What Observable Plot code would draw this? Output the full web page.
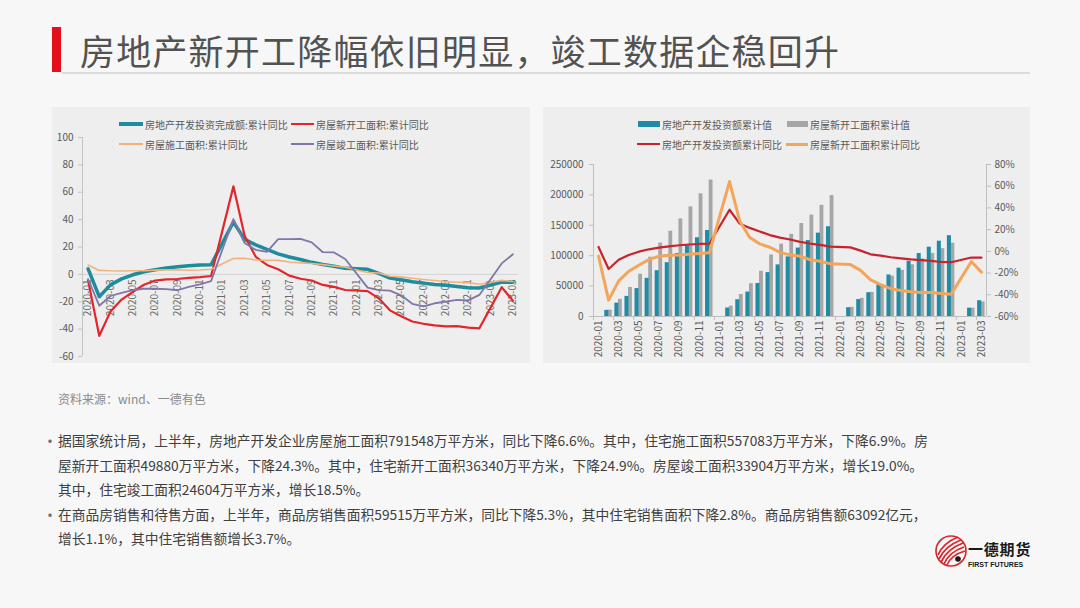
<!DOCTYPE html>
<html><head><meta charset="utf-8">
<script src="https://cdn.jsdelivr.net/npm/d3@7"></script>
<script src="https://cdn.jsdelivr.net/npm/@observablehq/plot@0.6"></script>
<style>
html,body{margin:0;padding:0}
body{width:1080px;height:608px;background:#f7f7f7;font-family:"Noto Sans CJK SC","Noto Sans",sans-serif;position:relative;overflow:hidden}
.abs{position:absolute}
.panel{position:absolute;background:#eeeeee}
.lg{position:absolute;height:14px;display:flex;align-items:center;font-size:10px;color:#595959;white-space:nowrap}
.sw{display:inline-block;margin-right:2px}
.ln{position:absolute;white-space:nowrap;font-size:13.75px;line-height:20px;color:#404040}
.bl{position:absolute;font-size:16px;line-height:20px;color:#707070}
</style></head><body>

<div class="abs" style="left:52px;top:27px;width:9px;height:45px;background:#e3101b"></div>
<div class="abs" style="left:80px;top:28px;font-size:35px;line-height:44px;color:#525252;letter-spacing:1.2px;white-space:nowrap">房地产新开工降幅依旧明显，竣工数据企稳回升</div>
<div class="abs" style="left:62px;top:72px;width:968px;height:2px;background:#dcdcdc"></div>

<div class="panel" style="left:52px;top:107px;width:478px;height:256px"><div id="left"></div></div>
<div class="panel" style="left:543px;top:107px;width:487px;height:256px"><div id="right"></div></div>

<!-- left legend -->
<div class="lg" style="left:119px;top:117px"><span class="sw" style="width:24px;height:3.5px;background:#1d8c9c"></span>房地产开发投资完成额:累计同比</div>
<div class="lg" style="left:291px;top:117px"><span class="sw" style="width:23px;height:2.2px;background:#e3262b"></span>房屋新开工面积:累计同比</div>
<div class="lg" style="left:119px;top:137px"><span class="sw" style="width:24px;height:1.6px;background:#f2b37a"></span>房屋施工面积:累计同比</div>
<div class="lg" style="left:291px;top:137px"><span class="sw" style="width:23px;height:1.8px;background:#8276a8"></span>房屋竣工面积:累计同比</div>

<!-- right legend -->
<div class="lg" style="left:638px;top:117px"><span class="sw" style="width:22px;height:6px;background:#1f8ca6"></span>房地产开发投资额累计值</div>
<div class="lg" style="left:787px;top:117px"><span class="sw" style="width:21px;height:6px;background:#a6a6a6"></span>房屋新开工面积累计值</div>
<div class="lg" style="left:637px;top:137px"><span class="sw" style="width:23px;height:2.2px;background:#c8232c"></span>房地产开发投资额累计同比</div>
<div class="lg" style="left:786px;top:137px"><span class="sw" style="width:22px;height:3px;background:#f3a55a"></span>房屋新开工面积累计同比</div>

<div class="abs" style="left:58px;top:391px;font-size:12px;line-height:16px;color:#8a8a8a;white-space:nowrap">资料来源：wind、一德有色</div>

<div class="bl" style="left:42px;top:430px">•</div>
<div class="ln" style="left:58px;top:430px">据国家统计局，上半年，房地产开发企业房屋施工面积791548万平方米，同比下降6.6%。其中，住宅施工面积557083万平方米，下降6.9%。房</div>
<div class="ln" style="left:58px;top:455px">屋新开工面积49880万平方米，下降24.3%。其中，住宅新开工面积36340万平方米，下降24.9%。房屋竣工面积33904万平方米，增长19.0%。</div>
<div class="ln" style="left:58px;top:479px">其中，住宅竣工面积24604万平方米，增长18.5%。</div>
<div class="bl" style="left:42px;top:504px">•</div>
<div class="ln" style="left:58px;top:504px">在商品房销售和待售方面，上半年，商品房销售面积59515万平方米，同比下降5.3%，其中住宅销售面积下降2.8%。商品房销售额63092亿元，</div>
<div class="ln" style="left:58px;top:528px">增长1.1%，其中住宅销售额增长3.7%。</div>

<!-- logo -->
<svg class="abs" style="left:934px;top:534px" width="34" height="34" viewBox="0 0 34 34">
  <circle cx="17" cy="17" r="15" fill="none" stroke="#d9262c" stroke-width="1.6"/>
  <path d="M4 21 Q9 9 24 3" stroke="#d9262c" stroke-width="1.8" fill="none"/>
  <path d="M5 25 Q11 12 27 6" stroke="#d9262c" stroke-width="1.8" fill="none"/>
  <path d="M7 28 Q13 15 29 9" stroke="#d9262c" stroke-width="1.8" fill="none"/>
  <path d="M10 30 Q15 18 30 13" stroke="#d9262c" stroke-width="1.8" fill="none"/>
  <path d="M13 31 Q17 21 31 17" stroke="#d9262c" stroke-width="1.6" fill="none"/>
  <circle cx="24" cy="25" r="2.8" fill="#1a1a1a"/>
</svg>
<div class="abs" style="left:968px;top:541px;font-size:15px;line-height:15px;font-weight:700;color:#1a1a1a;letter-spacing:0.8px;white-space:nowrap">一德期货</div>
<div class="abs" style="left:968px;top:561px;font-size:7px;line-height:7px;font-weight:700;color:#1a1a1a;white-space:nowrap;font-family:'Liberation Sans',sans-serif">FIRST FUTURES</div>

<script>
// ---------------- data ----------------
const months = [
  "2020-01","2020-02","2020-03","2020-04","2020-05","2020-06","2020-07","2020-08","2020-09","2020-10","2020-11","2020-12",
  "2021-01","2021-02","2021-03","2021-04","2021-05","2021-06","2021-07","2021-08","2021-09","2021-10","2021-11","2021-12",
  "2022-01","2022-02","2022-03","2022-04","2022-05","2022-06","2022-07","2022-08","2022-09","2022-10","2022-11","2022-12",
  "2023-01","2023-02","2023-03"
];
// 房地产开发投资完成额:累计同比 (%)
const investYoY = [
  4.0, -16.3, -7.7, -3.3, -0.3, 1.9, 3.4, 4.6, 5.6, 6.3, 6.8, 7.0,
  null, 38.3, 25.6, 21.6, 18.3, 15.0, 12.7, 10.9, 8.8, 7.2, 6.0, 4.4,
  null, 3.7, 0.7, -2.7, -4.0, -5.4, -6.4, -7.4, -8.0, -8.8, -9.8, -10.0,
  null, -5.7, -5.8
];
// 房屋新开工面积:累计同比 (%)
const newStartYoY = [
  -4.4, -44.9, -27.2, -18.4, -12.8, -7.6, -4.5, -3.6, -3.4, -2.6, -2.0, -1.2,
  null, 64.3, 28.2, 12.8, 6.9, 3.8, -0.9, -3.2, -4.5, -7.7, -9.1, -11.4,
  null, -12.2, -17.5, -26.3, -30.6, -34.4, -36.1, -37.2, -38.0, -37.8, -38.9, -39.4,
  null, -9.4, -19.2
];
// 房屋施工面积:累计同比 (%)
const constructYoY = [
  6.8, 2.9, 2.6, 2.5, 2.6, 2.6, 3.1, 3.3, 3.4, 3.0, 3.2, 3.7,
  null, 11.6, 11.8, 10.5, 10.3, 10.2, 9.0, 8.4, 7.9, 7.1, 6.1, 5.2,
  null, 1.4, 1.0, -1.4, -1.8, -2.8, -3.7, -4.5, -5.3, -5.7, -6.0, -7.2,
  null, -4.4, -5.2
];
// 房屋竣工面积:累计同比 (%)
const completeYoY = [
  -3.5, -22.9, -15.8, -13.5, -11.5, -10.5, -10.5, -10.8, -11.6, -9.2, -7.3, -4.9,
  null, 40.4, 22.9, 17.9, 16.4, 25.7, 25.7, 26.0, 23.4, 16.2, 16.0, 11.2,
  null, -9.7, -11.5, -11.9, -15.3, -21.5, -23.3, -21.1, -19.9, -18.7, -19.0, -15.0,
  null, 8.0, 14.7
];
// 房地产开发投资额累计值 (亿元)
const investCum = [
  null, 10115, 21963, 33103, 45920, 62780, 75328, 88454, 103484, 116556, 129492, 141443,
  null, 13986, 27576, 40240, 54318, 72179, 84895, 98060, 112559, 124934, 137086, 147602,
  null, 14499, 27765, 39154, 52134, 68314, 79462, 90809, 103559, 113945, 123863, 132895,
  null, 13669, 25974
];
// 房屋新开工面积累计值 (万平方米)
const newStartCum = [
  null, 10370, 28203, 47768, 69533, 97537, 120831, 140163, 160560, 180362, 201812, 224433,
  null, 17094, 36163, 53924, 74378, 101288, 118948, 135146, 152944, 166736, 182820, 198895,
  null, 15090, 29838, 39739, 51628, 66423, 75893, 85062, 94767, 103722, 111632, 120587,
  null, 13658, 24121
];
const leftTicks = [-60, -40, -20, 0, 20, 40, 60, 80, 100];
const rightValTicks = [0, 50000, 100000, 150000, 200000, 250000];
const rightPctTicks = [-60, -40, -20, 0, 20, 40, 60, 80];

// ---------------- helpers ----------------
const font = '"Noto Sans CJK SC","Noto Sans",sans-serif';
const series = arr => months.map((m, i) => ({i, m, v: arr[i]})).filter(d => d.v != null);
const labelRows = months.map((m, i) => ({i, m})).filter(d => d.i % 2 === 0);
const X0 = -0.5, X1 = months.length - 0.5;

// ---------------- left chart ----------------
const left = Plot.plot({
  width: 478, height: 256,
  marginLeft: 30, marginRight: 12, marginTop: 30, marginBottom: 7,
  style: {background: "transparent", fontFamily: font, fontSize: "10px", color: "#595959"},
  x: {domain: [X0, X1], axis: null},
  y: {domain: [-60, 100], axis: null},
  marks: [
    Plot.ruleY([0], {x1: X0, x2: X1, stroke: "#d4d4d4"}),
    Plot.ruleX([X0], {y1: -60, y2: 100, stroke: "#c4c4c4"}),
    Plot.axisY({ticks: leftTicks, label: null, tickSize: 4, tickPadding: 5, stroke: "#c4c4c4", fill: "#595959", tickFormat: d => String(d), fontSize: 10}),
    Plot.text(labelRows, {x: "i", y: 0, text: "m", rotate: -90, textAnchor: "end", dy: 5, fill: "#6a6a6a", fontSize: 10}),
    Plot.line(series(investYoY), {x: "i", y: "v", stroke: "#1d8c9c", strokeWidth: 3.5, strokeLinejoin: "round"}),
    Plot.line(series(newStartYoY), {x: "i", y: "v", stroke: "#e3262b", strokeWidth: 2.2, strokeLinejoin: "round"}),
    Plot.line(series(constructYoY), {x: "i", y: "v", stroke: "#f2b37a", strokeWidth: 1.6, strokeLinejoin: "round"}),
    Plot.line(series(completeYoY), {x: "i", y: "v", stroke: "#8276a8", strokeWidth: 1.8, strokeLinejoin: "round"})
  ]
});
document.getElementById("left").appendChild(left);

// ---------------- right chart ----------------
const VMAX = 250000, PMIN = -60, PMAX = 80;
const pctToY = p => (p - PMIN) / (PMAX - PMIN) * VMAX;
const barRows = months.map((m, i) => ({i, m, t: investCum[i], g: newStartCum[i]}));
const tickPos = d3.range(X0, X1 + 0.01, 2);

const right = Plot.plot({
  width: 487, height: 256,
  marginLeft: 50, marginRight: 44, marginTop: 57, marginBottom: 47,
  style: {background: "transparent", fontFamily: font, fontSize: "10px", color: "#595959"},
  x: {domain: [X0, X1], axis: null},
  y: {domain: [0, VMAX], axis: null},
  marks: [
    Plot.rect(barRows.filter(d => d.g != null), {x1: d => d.i - 0.02, x2: d => d.i + 0.36, y1: 0, y2: "g", fill: "#a6a6a6"}),
    Plot.rect(barRows.filter(d => d.t != null), {x1: d => d.i - 0.38, x2: d => d.i + 0.02, y1: 0, y2: "t", fill: "#1f8ca6"}),
    Plot.ruleY([0], {x1: X0, x2: X1, stroke: "#bfbfbf"}),
    Plot.ruleX([X0], {y1: 0, y2: VMAX, stroke: "#bfbfbf"}),
    Plot.ruleX([X1], {y1: 0, y2: VMAX, stroke: "#bfbfbf"}),
    Plot.axisX({ticks: tickPos, label: null, tickSize: 4, stroke: "#bfbfbf", tickFormat: () => ""}),
    Plot.axisY({ticks: rightValTicks, label: null, anchor: "left", tickSize: 4, tickPadding: 6, stroke: "#bfbfbf", fill: "#595959", tickFormat: d => String(d), fontSize: 10}),
    Plot.axisY({ticks: rightPctTicks.map(pctToY), label: null, anchor: "right", tickSize: 4, tickPadding: 4, stroke: "#bfbfbf", fill: "#595959",
      tickFormat: v => Math.round(v / VMAX * (PMAX - PMIN) + PMIN) + "%", fontSize: 10}),
    Plot.text(labelRows, {x: "i", y: 0, text: "m", rotate: -90, textAnchor: "end", dy: 4, fill: "#595959", fontSize: 10}),
    Plot.line(series(investYoY), {x: "i", y: d => pctToY(d.v), stroke: "#c8232c", strokeWidth: 2.2, strokeLinejoin: "round"}),
    Plot.line(series(newStartYoY), {x: "i", y: d => pctToY(d.v), stroke: "#f3a55a", strokeWidth: 3, strokeLinejoin: "round"})
  ]
});
document.getElementById("right").appendChild(right);
</script>
</body></html>
